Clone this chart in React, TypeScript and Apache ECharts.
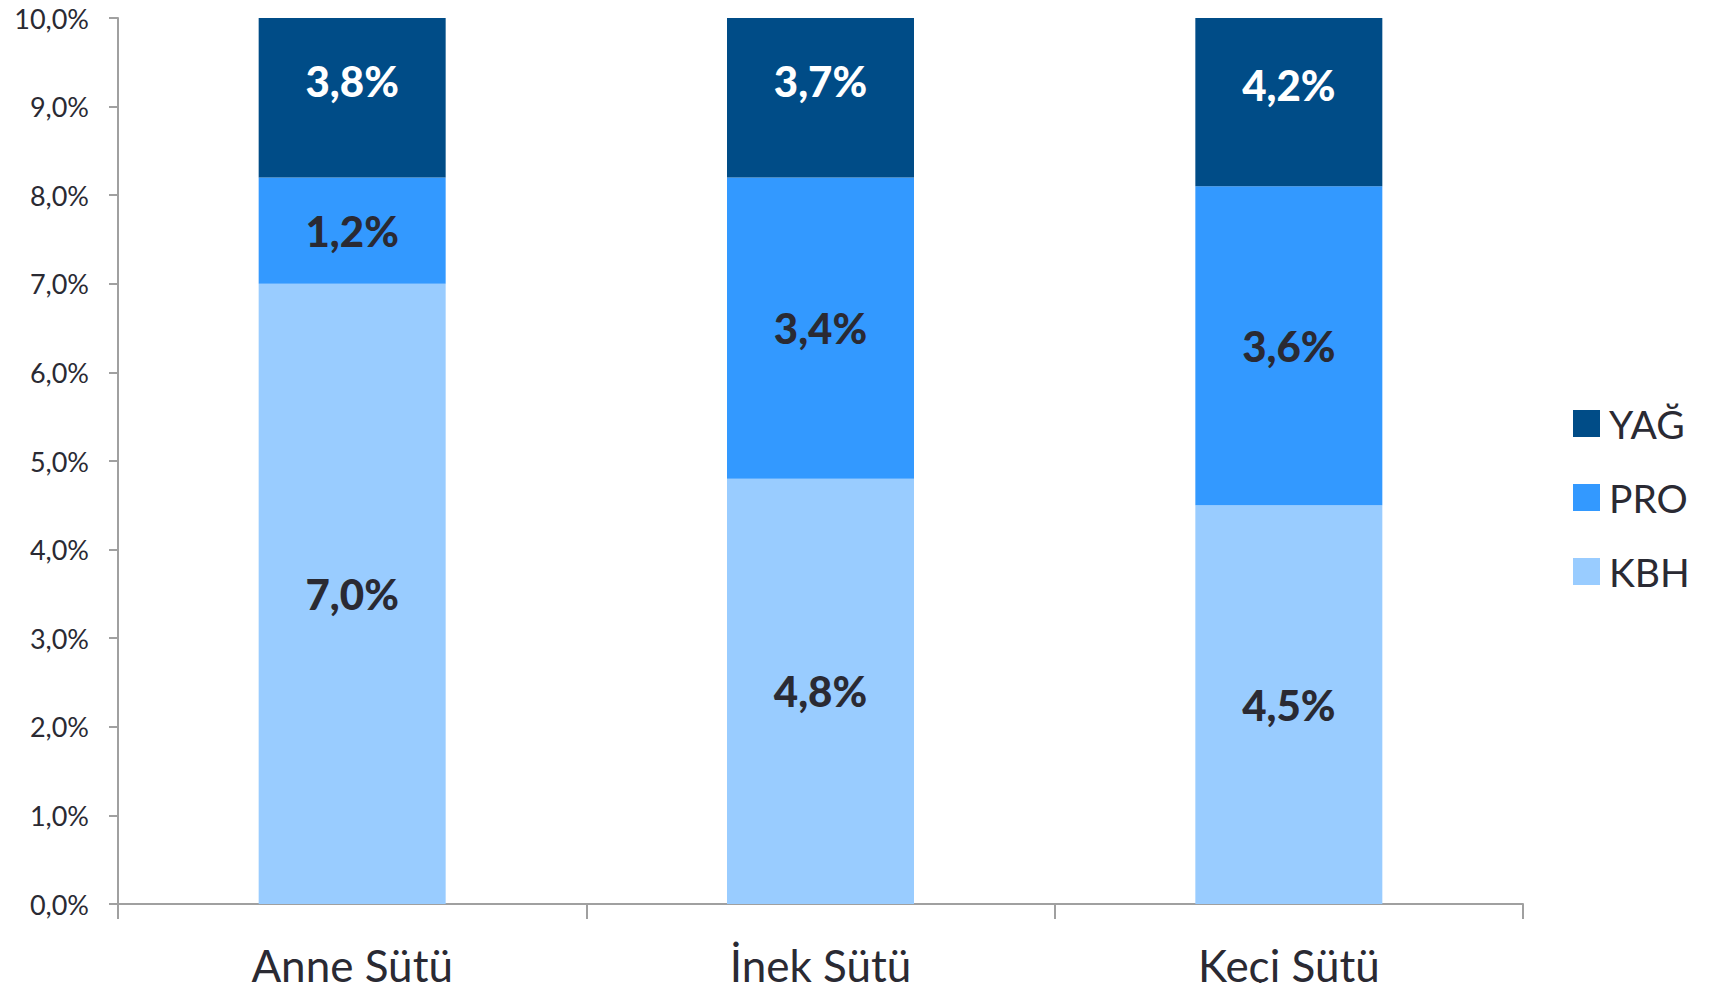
import React, { useEffect, useRef } from "react";
import * as echarts from "echarts";

const categories = ["Anne Sütü", "İnek Sütü", "Keçi Sütü"];
const kbh = [7.0, 4.8, 4.5];
const pro = [1.2, 3.4, 3.6];
const yag = [3.8, 3.7, 4.2];
const seriesNames = ["KBH", "PRO", "YAĞ"];
const colors = ["#99CCFF", "#3399FF", "#004C87"];

const FONT = "Lato, 'Open Sans', sans-serif";
const TEXT = "#2A2A33";

const fmt = (v: number) => v.toFixed(1).replace(".", ",") + "%";

export default function App() {
  const ref = useRef<HTMLDivElement>(null);
  useEffect(() => {
    if (!ref.current) return;
    const chart = echarts.init(ref.current, undefined, { renderer: "svg" });
    const mk = (name: string, data: number[], color: string, labelColor: string, offset: number[]) => ({
      name,
      type: "bar",
      stack: "total",
      data,
      barWidth: 187,
      itemStyle: { color },
      label: {
        show: true,
        position: "inside",
        formatter: (p: any) => fmt(p.value),
        color: labelColor,
        fontFamily: FONT,
        fontWeight: 900,
        fontSize: 42,
        offset,
      },
    });
    chart.setOption({
      animation: false,
      textStyle: { fontFamily: FONT },
      grid: { left: 118, right: 189, top: 18, bottom: 87, containLabel: false },
      legend: {
        orient: "vertical",
        left: 1568,
        top: 399,
        itemWidth: 27,
        itemHeight: 27,
        itemGap: 35,
        icon: "rect",
        data: ["YAĞ", "PRO", "KBH"],
        textStyle: { fontFamily: FONT, fontSize: 39, color: TEXT, padding: [0, 0, 0, 4] },
      },
      xAxis: {
        type: "category",
        data: categories,
        axisLine: { lineStyle: { color: "#A0A0A0", width: 2 } },
        axisTick: { show: true, length: 15, lineStyle: { color: "#A0A0A0", width: 2 } },
        axisLabel: { fontFamily: FONT, fontSize: 44, color: TEXT, margin: 39 },
      },
      yAxis: {
        type: "value",
        min: 0,
        max: 10,
        interval: 1,
        splitLine: { show: false },
        axisLine: { show: true, lineStyle: { color: "#A0A0A0", width: 2 } },
        axisTick: { show: true, length: 9, lineStyle: { color: "#A0A0A0", width: 2 } },
        axisLabel: {
          fontFamily: FONT,
          fontSize: 27,
          color: TEXT,
          margin: 29,
          formatter: (v: number) => fmt(v),
        },
      },
      series: [
        mk(seriesNames[0], kbh, colors[0], TEXT, [0, 0]),
        mk(seriesNames[1], pro, colors[1], TEXT, [0, 0]),
        mk(seriesNames[2], yag, colors[2], "#FFFFFF", [0, -17]),
      ],
    });
    return () => chart.dispose();
  }, []);
  return <div ref={ref} style={{ width: 1712, height: 991, margin: -8 }} />;
}
